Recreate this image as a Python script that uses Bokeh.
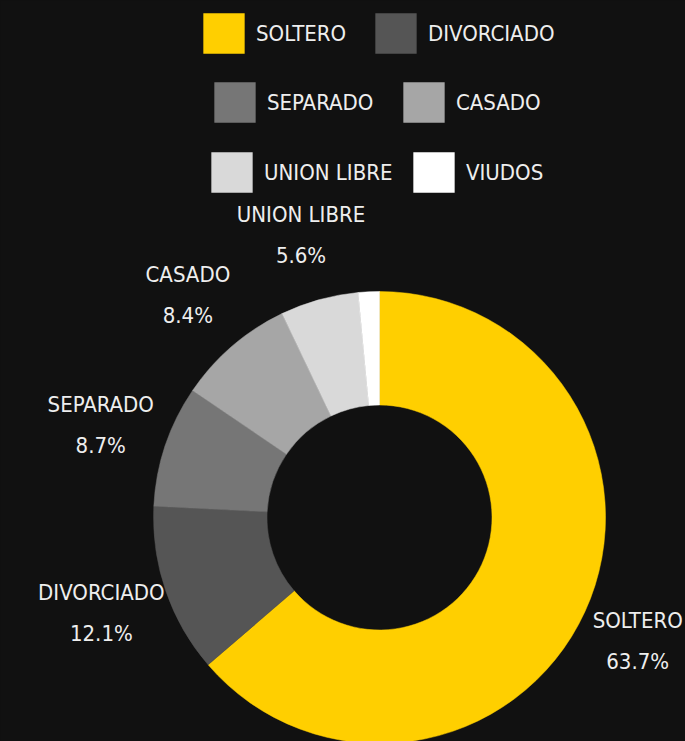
import numpy as np
from bokeh.plotting import figure
from bokeh.models import (ColumnDataSource, Range1d, Legend, LegendItem,
                          GlobalInlineStyleSheet)
from bokeh.core.properties import value
from bokeh.embed import file_html
from bokeh.resources import INLINE

# ---- data ----
categories = ["SOLTERO", "DIVORCIADO", "SEPARADO", "CASADO", "UNION LIBRE", "VIUDOS"]
percentages = [63.7, 12.1, 8.7, 8.4, 5.6, 1.5]
colors = ["#FFCF00", "#555555", "#767676", "#A6A6A6", "#D9D9D9", "#FFFFFF"]
legend_rows = [["SOLTERO", "DIVORCIADO"], ["SEPARADO", "CASADO"], ["UNION LIBRE", "VIUDOS"]]

BG = "#111111"
TXT = "#EEEEEE"
FONT = "Noto Sans Condensed, DejaVu Sans Condensed, Roboto Condensed, Liberation Sans Narrow, Roboto"

W, H = 685, 741
CX, CY = 379, 224          # donut centre (data units = pixels)
R_OUT, R_IN = 226, 112.5
R_LABEL = 294

vals = np.array(percentages, dtype=float)
frac = vals / vals.sum()
cum_end = np.cumsum(frac)
cum_start = cum_end - frac
start_angle = np.pi / 2 - 2 * np.pi * cum_start
end_angle = np.pi / 2 - 2 * np.pi * cum_end
mid_angle = (start_angle + end_angle) / 2

src = ColumnDataSource(dict(
    cat=categories, pct=percentages, color=colors,
    start=start_angle, end=end_angle,
))

p = figure(width=W, height=H, output_backend="svg", toolbar_location=None,
           x_range=Range1d(0, W), y_range=Range1d(0, H),
           min_border=0)
p.axis.visible = False
p.grid.visible = False
p.background_fill_color = BG
p.border_fill_color = BG
p.outline_line_color = None
p.stylesheets = [GlobalInlineStyleSheet(css="html, body { background: #111111; }")]

wedges = p.annular_wedge(x=CX, y=CY, inner_radius=R_IN, outer_radius=R_OUT,
                         start_angle="start", end_angle="end", direction="clock",
                         fill_color="color", line_color="color", line_width=0.5,
                         source=src)

# ---- slice labels (skip the tiny slice) ----
show = [i for i, v in enumerate(percentages) if v >= 2]
cosv = [np.cos(mid_angle[i]) for i in show]
lab_src = ColumnDataSource(dict(
    x=[CX + R_LABEL * np.cos(mid_angle[i]) for i in show],
    y=[CY + R_LABEL * np.sin(mid_angle[i]) for i in show],
    xo=[-9 if c > 0.5 else 0 for c in cosv],   # keep right-hand label inside the page
    name=[categories[i] for i in show],
    pct=[f"{percentages[i]:.1f}%" for i in show],
))
p.text(x="x", y="y", text="name", source=lab_src, text_align="center",
       text_baseline="middle", x_offset="xo", y_offset=-20, text_color=TXT,
       text_font=value(FONT), text_font_size="22px")
p.text(x="x", y="y", text="pct", source=lab_src, text_align="center",
       text_baseline="middle", x_offset="xo", y_offset=21, text_color=TXT,
       text_font=value(FONT), text_font_size="22px")

# ---- legend rows ----
row_pos = [(198, 683), (209, 614), (206, 544)]
row_label_w = [114, 131, 144]
for names, (lx, ly), lw in zip(legend_rows, row_pos, row_label_w):
    items = [LegendItem(label=n, renderers=[wedges], index=categories.index(n)) for n in names]
    leg = Legend(items=items, orientation="horizontal", location=(lx, ly),
                 glyph_width=51, glyph_height=50, label_standoff=7,
                 label_width=lw, spacing=0, padding=0, margin=0,
                 border_line_alpha=0, background_fill_alpha=0,
                 label_text_color=TXT, label_text_font=FONT,
                 label_text_font_size="22px")
    p.add_layout(leg)

open("out.html", "w").write(file_html(p, INLINE))
